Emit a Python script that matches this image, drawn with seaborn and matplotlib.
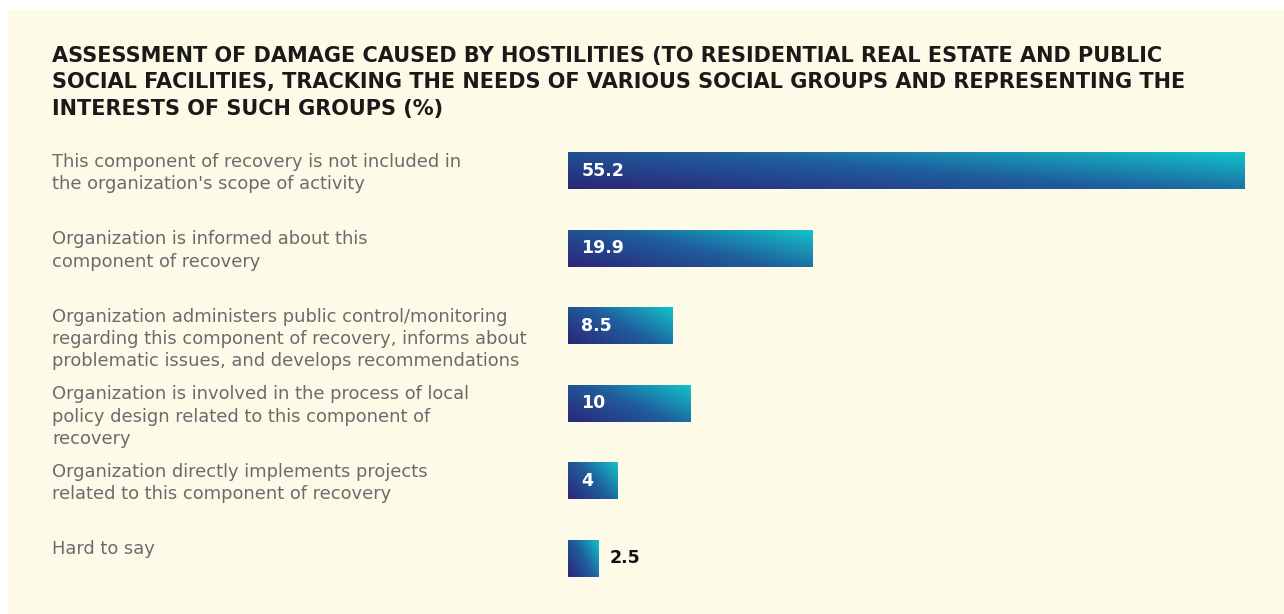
import numpy as np
import pandas as pd
import matplotlib
matplotlib.use("Agg")
import matplotlib.pyplot as plt
from matplotlib.colors import LinearSegmentedColormap
from matplotlib.patches import Rectangle
import seaborn as sns

categories = [
    "This component of recovery is not included in\nthe organization's scope of activity",
    "Organization is informed about this\ncomponent of recovery",
    "Organization administers public control/monitoring\nregarding this component of recovery, informs about\nproblematic issues, and develops recommendations",
    "Organization is involved in the process of local\npolicy design related to this component of\nrecovery",
    "Organization directly implements projects\nrelated to this component of recovery",
    "Hard to say",
]
values = [55.2, 19.9, 8.5, 10, 4, 2.5]
value_labels = ["55.2", "19.9", "8.5", "10", "4", "2.5"]
title = ("ASSESSMENT OF DAMAGE CAUSED BY HOSTILITIES (TO RESIDENTIAL REAL ESTATE AND PUBLIC\n"
         "SOCIAL FACILITIES, TRACKING THE NEEDS OF VARIOUS SOCIAL GROUPS AND REPRESENTING THE\n"
         "INTERESTS OF SUCH GROUPS (%)")

BG = "#fdfbe8"
sns.set_theme(style="white")
plt.rcParams['font.family'] = ['DejaVu Sans']

fig = plt.figure(figsize=(12.84, 6.14), dpi=100)
fig.patch.set_facecolor("white")
fig.patches.append(Rectangle((8/1284, 0), 1 - 8/1284, 1 - 10/614, transform=fig.transFigure,
                             facecolor=BG, edgecolor="none", zorder=-10))

left = 568/1284
right = 1245/1284
top = 1 - 132/614
bottom = 1 - 597/614
ax = fig.add_axes([left, bottom, right - left, top - bottom])
ax.set_facecolor("none")

df = pd.DataFrame({"cat": categories, "val": values})
sns.barplot(data=df, x="val", y="cat", ax=ax, orient="h", width=0.48,
            color="#1f5f9c", edgecolor="none", saturation=1)
ax.set_xlim(0, 55.2)
ax.set_ylim(5.5, -0.5)
for s in ax.spines.values():
    s.set_visible(False)
ax.set_xlabel("")
ax.set_ylabel("")
ax.set_xticks([])
ax.set_yticks([])

cmap = LinearSegmentedColormap.from_list("g", ["#2c2677", "#1f5d9d", "#12c4c9"])
nx, ny = 200, 40
xx, yy = np.meshgrid(np.linspace(0, 1, nx), np.linspace(0, 1, ny))
for p in ax.patches:
    x0, y0 = p.get_x(), p.get_y()
    w, h = p.get_width(), p.get_height()
    p.set_alpha(0)
    t = 0.6 * xx + 0.4 * (1 - yy)
    im = ax.imshow(t, cmap=cmap, vmin=0, vmax=1, aspect="auto",
                   extent=(x0, x0 + w, y0 + h, y0), origin="upper",
                   interpolation="bilinear", zorder=2)
    clip = Rectangle((x0, y0), w, h, transform=ax.transData)
    im.set_clip_path(clip)
ax.set_xlim(0, 55.2)
ax.set_ylim(5.5, -0.5)

for i, (v, lab) in enumerate(zip(values, value_labels)):
    if v >= 4:
        ax.text(1.1, i, lab, color="white", fontsize=12.5, fontweight="bold",
                va="center", ha="left", zorder=3)
    else:
        ax.text(v + 0.9, i, lab, color="#111111", fontsize=12.5, fontweight="bold",
                va="center", ha="left", zorder=3)

for i, c in enumerate(categories):
    ax.text(-(568 - 52)/677*55.2, i - 0.24 + 0.01, c, color="#6b6b6b", fontsize=12.9,
            va="top", ha="left", linespacing=1.3, zorder=3)

fig.text(52/1284, 1 - 46/614, title, fontsize=15, fontweight="bold", color="#1a1a1a",
         va="top", ha="left", linespacing=1.4)

fig.savefig("out.png", dpi=100, facecolor=fig.get_facecolor())
